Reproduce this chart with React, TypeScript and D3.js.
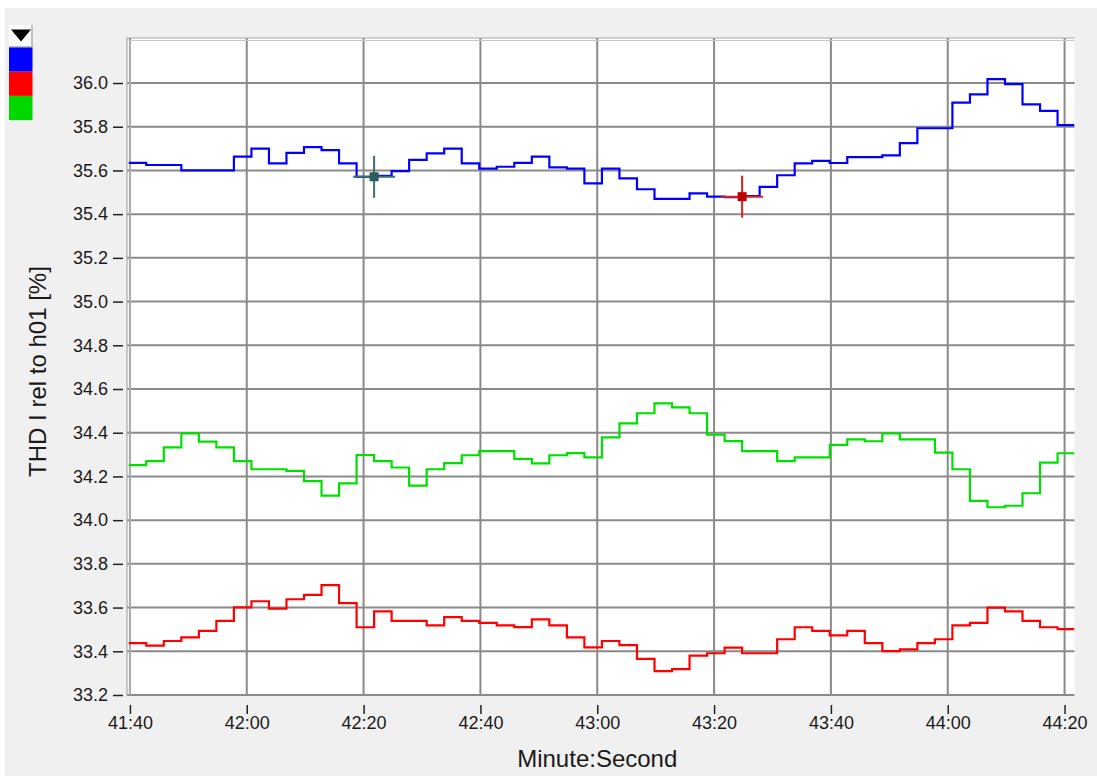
import React, { useEffect, useRef } from "react";
import * as d3 from "d3";

// sample times in seconds (41:39.8 ... 44:18.8)
const sampleTimes = [
  2499.8, 2502.8, 2505.8, 2508.8, 2511.8, 2514.8, 2517.8, 2520.8, 2523.8, 2526.8,
  2529.8, 2532.8, 2535.8, 2538.8, 2541.8, 2544.8, 2547.8, 2550.8, 2553.8, 2556.8,
  2559.8, 2562.8, 2565.8, 2568.8, 2571.8, 2574.8, 2577.8, 2580.8, 2583.8, 2586.8,
  2589.8, 2592.8, 2595.8, 2598.8, 2601.8, 2604.8, 2607.8, 2610.8, 2613.8, 2616.8,
  2619.8, 2622.8, 2625.8, 2628.8, 2631.8, 2634.8, 2637.8, 2640.8, 2643.8, 2646.8,
  2649.8, 2652.8, 2655.8, 2658.8,
];

const blueValues = [
  35.635, 35.625, 35.625, 35.6, 35.6, 35.6, 35.663, 35.7, 35.632, 35.68,
  35.707, 35.693, 35.632, 35.571, 35.575, 35.597, 35.648, 35.678, 35.7, 35.632,
  35.608, 35.617, 35.635, 35.663, 35.614, 35.608, 35.541, 35.608, 35.564, 35.514,
  35.47, 35.47, 35.495, 35.48, 35.478, 35.483, 35.525, 35.578, 35.632, 35.644,
  35.634, 35.661, 35.661, 35.669, 35.725, 35.793, 35.793, 35.91, 35.948, 36.018,
  35.995, 35.902, 35.873, 35.807,
];

const redValues = [
  33.437, 33.426, 33.447, 33.464, 33.493, 33.539, 33.601, 33.629, 33.595, 33.638,
  33.658, 33.703, 33.62, 33.51, 33.583, 33.539, 33.539, 33.519, 33.556, 33.539,
  33.53, 33.519, 33.511, 33.546, 33.519, 33.464, 33.418, 33.447, 33.428, 33.365,
  33.309, 33.318, 33.38, 33.391, 33.417, 33.391, 33.391, 33.455, 33.51, 33.493,
  33.473, 33.493, 33.437, 33.401, 33.409, 33.437, 33.455, 33.519, 33.53, 33.6,
  33.583, 33.539, 33.51, 33.501,
];

const greenValues = [
  34.252, 34.27, 34.333, 34.397, 34.359, 34.333, 34.27, 34.233, 34.233, 34.225,
  34.179, 34.112, 34.168, 34.298, 34.27, 34.241, 34.158, 34.233, 34.261, 34.297,
  34.316, 34.316, 34.28, 34.26, 34.297, 34.307, 34.287, 34.379, 34.443, 34.489,
  34.534, 34.516, 34.489, 34.391, 34.362, 34.316, 34.316, 34.27, 34.287, 34.287,
  34.344, 34.37, 34.361, 34.397, 34.37, 34.37, 34.309, 34.233, 34.088, 34.059,
  34.066, 34.123, 34.263, 34.306,
];

const seriesColors = ["#0000ff", "#ff0000", "#00e000"];

const yTickValues = [
  33.2, 33.4, 33.6, 33.8, 34.0, 34.2, 34.4, 34.6, 34.8, 35.0, 35.2, 35.4, 35.6, 35.8, 36.0,
];
const xTickValues = [2500, 2520, 2540, 2560, 2580, 2600, 2620, 2640, 2660];

// the two cursors (time, value)
const cursorTimes = [2541.8, 2604.8];
const cursorValues = [35.571, 35.48];
const cursorLineColors = ["#3d6e6e", "#e02020"];
const cursorBoxColors = ["#2c5c5c", "#c00000"];

const font = "'Liberation Sans', Arial, sans-serif";

function formatMinSec(t: number) {
  const m = Math.floor(t / 60);
  const s = Math.round(t - m * 60);
  return `${m}:${String(s).padStart(2, "0")}`;
}

function App() {
  const ref = useRef<SVGSVGElement>(null);

  useEffect(() => {
    const width = 1097;
    const height = 776;
    const plot = { left: 127, right: 1074.5, top: 38, bottom: 695 };

    const svg = d3.select(ref.current);
    svg.selectAll("*").remove();

    // window backgrounds
    svg.append("rect").attr("width", width).attr("height", height).attr("fill", "#ffffff");
    svg
      .append("rect")
      .attr("x", 5)
      .attr("y", 8)
      .attr("width", width - 5)
      .attr("height", height - 8)
      .attr("fill", "#f0f0f0");

    const xScale = d3.scaleLinear().domain([2499.5, 2661.7]).range([plot.left, plot.right]);
    const yScale = d3.scaleLinear().domain([33.2, 36.206]).range([plot.bottom, plot.top]);

    svg
      .append("rect")
      .attr("x", plot.left)
      .attr("y", plot.top)
      .attr("width", plot.right - plot.left)
      .attr("height", plot.bottom - plot.top)
      .attr("fill", "#ffffff");

    // grid
    const grid = svg.append("g");
    grid
      .selectAll("line.v")
      .data(xTickValues)
      .join("line")
      .attr("class", "v")
      .attr("x1", (d) => xScale(d))
      .attr("x2", (d) => xScale(d))
      .attr("y1", plot.top)
      .attr("y2", plot.bottom)
      .attr("stroke", "#8a8a8a")
      .attr("stroke-width", 2);
    grid
      .selectAll("line.h")
      .data(yTickValues)
      .join("line")
      .attr("class", "h")
      .attr("x1", plot.left)
      .attr("x2", plot.right)
      .attr("y1", (d) => yScale(d))
      .attr("y2", (d) => yScale(d))
      .attr("stroke", "#8a8a8a")
      .attr("stroke-width", 2);

    // frame (left + top double edge)
    svg
      .append("path")
      .attr("d", `M${plot.left},${plot.bottom}V${plot.top}H${plot.right}`)
      .attr("fill", "none")
      .attr("stroke", "#a8a8a8")
      .attr("stroke-width", 1.2);
    svg
      .append("path")
      .attr("d", `M${plot.left + 3},${plot.bottom}V${plot.top + 2.5}H${plot.right}`)
      .attr("fill", "none")
      .attr("stroke", "#c8c8c8")
      .attr("stroke-width", 1);

    // series
    const clip = svg
      .append("clipPath")
      .attr("id", "plotclip")
      .append("rect")
      .attr("x", plot.left)
      .attr("y", plot.top)
      .attr("width", plot.right - plot.left)
      .attr("height", plot.bottom - plot.top);

    const line = d3
      .line<[number, number]>()
      .x((d) => xScale(d[0]))
      .y((d) => yScale(d[1]))
      .curve(d3.curveStepAfter);

    const allSeries = [blueValues, redValues, greenValues];
    allSeries.forEach((vals, i) => {
      const pts: [number, number][] = sampleTimes.map((t, j) => [t, vals[j]]);
      pts.push([xScale.domain()[1], vals[vals.length - 1]]);
      svg
        .append("path")
        .attr("clip-path", "url(#plotclip)")
        .attr("fill", "none")
        .attr("stroke", seriesColors[i])
        .attr("stroke-width", 2.2)
        .attr("stroke-linejoin", "miter")
        .attr("d", line(pts));
    });

    // cursors
    cursorTimes.forEach((t, i) => {
      const cx = xScale(t);
      const cy = yScale(cursorValues[i]);
      const g = svg.append("g");
      g.append("line")
        .attr("x1", cx - 21)
        .attr("x2", cx + 21)
        .attr("y1", cy)
        .attr("y2", cy)
        .attr("stroke", cursorLineColors[i])
        .attr("stroke-width", 2);
      g.append("line")
        .attr("x1", cx)
        .attr("x2", cx)
        .attr("y1", cy - 21)
        .attr("y2", cy + 21)
        .attr("stroke", cursorLineColors[i])
        .attr("stroke-width", 2);
      g.append("rect")
        .attr("x", cx - 4.5)
        .attr("y", cy - 4.5)
        .attr("width", 9)
        .attr("height", 9)
        .attr("fill", cursorBoxColors[i]);
    });

    // y axis
    const yAxis = d3
      .axisLeft(yScale)
      .tickValues(yTickValues)
      .tickFormat(d3.format(".1f"))
      .tickSize(10)
      .tickPadding(5);
    svg
      .append("g")
      .attr("transform", `translate(123,0)`)
      .call(yAxis)
      .call((g) => g.select(".domain").remove())
      .call((g) => g.selectAll(".tick line").attr("stroke", "#222").attr("stroke-width", 1.5))
      .call((g) =>
        g
          .selectAll(".tick text")
          .attr("fill", "#1a1a1a")
          .attr("font-family", font)
          .attr("font-size", 18)
      );

    // x axis
    const xAxis = d3
      .axisBottom(xScale)
      .tickValues(xTickValues)
      .tickFormat((d) => formatMinSec(d as number))
      .tickSize(9)
      .tickPadding(2);
    svg
      .append("g")
      .attr("transform", `translate(0,705)`)
      .call(xAxis)
      .call((g) => g.select(".domain").remove())
      .call((g) => g.selectAll(".tick line").attr("stroke", "#222").attr("stroke-width", 1.5))
      .call((g) =>
        g
          .selectAll(".tick text")
          .attr("fill", "#1a1a1a")
          .attr("font-family", font)
          .attr("font-size", 18)
      );

    // axis titles
    svg
      .append("text")
      .attr("x", (xScale(2500) + xScale(2660)) / 2)
      .attr("y", 767)
      .attr("text-anchor", "middle")
      .attr("font-family", font)
      .attr("font-size", 24)
      .attr("fill", "#1a1a1a")
      .text("Minute:Second");

    svg
      .append("text")
      .attr("transform", `translate(46,${(plot.top + plot.bottom) / 2 + 5}) rotate(-90)`)
      .attr("text-anchor", "middle")
      .attr("font-family", font)
      .attr("font-size", 24)
      .attr("fill", "#1a1a1a")
      .text("THD I rel to h01 [%]");

    // legend column with drop-down button
    const legend = svg.append("g").attr("transform", "translate(9,25)");
    legend.append("rect").attr("width", 24).attr("height", 22).attr("fill", "#fafafa");
    legend
      .append("path")
      .attr("d", "M23,0V22H0")
      .attr("fill", "none")
      .attr("stroke", "#c0c0c0")
      .attr("stroke-width", 2);
    legend.append("path").attr("d", "M2,4.5H22L12,16.5Z").attr("fill", "#000");
    seriesColors.forEach((c, i) => {
      legend
        .append("rect")
        .attr("y", 22.5 + i * 24.2)
        .attr("width", 23.5)
        .attr("height", 24.2)
        .attr("fill", c === "#00e000" ? "#00d800" : c);
    });
  }, []);

  return (
    <svg
      ref={ref}
      width={1097}
      height={776}
      style={{ position: "absolute", left: 0, top: 0, display: "block" }}
    />
  );
}

export default App;
